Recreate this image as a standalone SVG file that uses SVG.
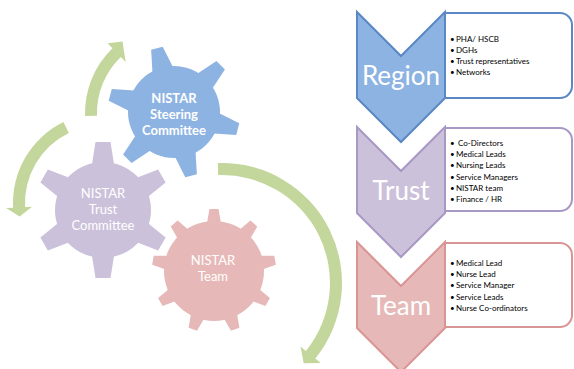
<svg xmlns="http://www.w3.org/2000/svg" width="574" height="369" viewBox="0 0 574 369">
<style>
.gt{font-family:Lato,"Liberation Sans",sans-serif;font-size:13px;fill:#fff;text-anchor:middle}
.b{font-weight:bold}
.ch{font-family:Lato,"Liberation Sans",sans-serif;font-size:26px;fill:#fff;text-anchor:middle}
.li{font-family:Lato,"Liberation Sans",sans-serif;font-size:8px;fill:#000}
.arr{fill:#c3d69b}
.box{fill:#fff;stroke-width:2}
.chev{stroke-width:2;stroke-linejoin:miter}
</style>
<defs>
<path id="tb" d="M-10.5,-44 L-6,-66 L6,-66 L10.5,-44Z"/>
<path id="tp" d="M-11,-46 L-7.5,-68 L7.5,-68 L11,-46Z"/>
<path id="tr" d="M-7,-48 L-4.5,-62 L4.5,-62 L7,-48Z"/>
</defs>
<rect width="574" height="369" fill="#fff"/>

<g id="connectors">
<path class="arr" d="M85.1,116.1 A90,90 0 0 1 112.5,48.3 L107.6,43.2 L122.5,41.5 L125.7,61.9 L120.8,56.9 A78,78 0 0 0 97,115.7 Z"/>
<path class="arr" d="M63.5,122.1 A90,90 0 0 0 13.1,207.7 L6.1,208.1 L19.6,216.4 L32.1,206.7 L25.1,207.1 A78,78 0 0 1 68.8,132.9 Z"/>
<path class="arr" d="M217.8,163.1 A120,120 0 0 1 315.3,358.5 L320.7,362.9 L303.7,363.2 L300.5,346.6 L305.9,351 A108,108 0 0 0 218.2,175.1 Z"/>
</g>

<g id="gear-trust" fill="#ccc1da">
<g transform="translate(103,210)">
<circle r="48"/>
<use href="#tp"/>
<use href="#tp" transform="rotate(60)"/>
<use href="#tp" transform="rotate(120)"/>
<use href="#tp" transform="rotate(180)"/>
<use href="#tp" transform="rotate(240)"/>
<use href="#tp" transform="rotate(300)"/>
</g>
<text class="gt" x="103" y="198">NISTAR</text>
<text class="gt" x="103" y="214">Trust</text>
<text class="gt" x="103" y="230">Committee</text>
</g>

<g id="gear-steering" fill="#8db3e2">
<g transform="translate(174,112)">
<circle r="46"/>
<use href="#tb" transform="rotate(-15)"/>
<use href="#tb" transform="rotate(45)"/>
<use href="#tb" transform="rotate(105)"/>
<use href="#tb" transform="rotate(165)"/>
<use href="#tb" transform="rotate(225)"/>
<use href="#tb" transform="rotate(285)"/>
</g>
<text class="gt b" x="174" y="103">NISTAR</text>
<text class="gt b" x="174" y="119">Steering</text>
<text class="gt b" x="174" y="135">Committee</text>
</g>

<g id="gear-team" fill="#e6b9b8">
<g transform="translate(214,271)">
<circle r="50"/>
<use href="#tr"/>
<use href="#tr" transform="rotate(40)"/>
<use href="#tr" transform="rotate(80)"/>
<use href="#tr" transform="rotate(120)"/>
<use href="#tr" transform="rotate(160)"/>
<use href="#tr" transform="rotate(200)"/>
<use href="#tr" transform="rotate(240)"/>
<use href="#tr" transform="rotate(280)"/>
<use href="#tr" transform="rotate(320)"/>
</g>
<text class="gt" x="213" y="265">NISTAR</text>
<text class="gt" x="213" y="281">Team</text>
</g>

<g id="region">
<path class="box" stroke="#5a87c5" d="M445,13 H560 A12,12 0 0 1 572,25 V86 A12,12 0 0 1 560,98 H445"/>
<path class="chev" fill="#8db3e2" stroke="#5a87c5" d="M357,12 L401,56 L445,12 L445,98 L401,142 L357,98 Z"/>
<text class="ch" x="401" y="85">Region</text>
<text class="li" y="42"><tspan x="450">•</tspan><tspan x="456">PHA/ HSCB</tspan></text>
<text class="li" y="53"><tspan x="450">•</tspan><tspan x="456">DGHs</tspan></text>
<text class="li" y="64"><tspan x="450">•</tspan><tspan x="456">Trust representatives</tspan></text>
<text class="li" y="75"><tspan x="450">•</tspan><tspan x="456">Networks</tspan></text>
</g>

<g id="trust">
<path class="box" stroke="#a898c4" d="M445,128 H560 A12,12 0 0 1 572,140 V199 A12,12 0 0 1 560,211 H445"/>
<path class="chev" fill="#ccc1da" stroke="#a898c4" d="M357,127 L401,171 L445,127 L445,213 L401,257 L357,213 Z"/>
<text class="ch" x="401" y="200">Trust</text>
<text class="li" y="146"><tspan x="450">•</tspan><tspan x="458">Co-Directors</tspan></text>
<text class="li" y="157.2"><tspan x="450">•</tspan><tspan x="456">Medical Leads</tspan></text>
<text class="li" y="168.4"><tspan x="450">•</tspan><tspan x="456">Nursing Leads</tspan></text>
<text class="li" y="179.6"><tspan x="450">•</tspan><tspan x="456">Service Managers</tspan></text>
<text class="li" y="190.8"><tspan x="450">•</tspan><tspan x="456">NISTAR team</tspan></text>
<text class="li" y="202"><tspan x="450">•</tspan><tspan x="456">Finance / HR</tspan></text>
</g>

<g id="team">
<path class="box" stroke="#d99594" d="M445,243 H560 A12,12 0 0 1 572,255 V315 A12,12 0 0 1 560,327 H445"/>
<path class="chev" fill="#e6b9b8" stroke="#d99594" d="M357,242 L401,286 L445,242 L445,328 L401,372 L357,328 Z"/>
<text class="ch" x="401" y="315">Team</text>
<text class="li" y="266"><tspan x="450">•</tspan><tspan x="456">Medical Lead</tspan></text>
<text class="li" y="277.2"><tspan x="450">•</tspan><tspan x="456">Nurse Lead</tspan></text>
<text class="li" y="288.4"><tspan x="450">•</tspan><tspan x="456">Service Manager</tspan></text>
<text class="li" y="299.6"><tspan x="450">•</tspan><tspan x="456">Service Leads</tspan></text>
<text class="li" y="310.8"><tspan x="450">•</tspan><tspan x="456">Nurse Co-ordinators</tspan></text>
</g>
</svg>
